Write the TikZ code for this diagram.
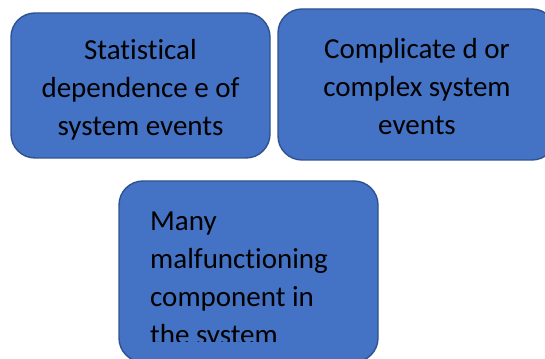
\documentclass[tikz,border=0pt]{standalone}
\usepackage{fontspec}
\setmainfont{Carlito}[Ligatures={NoCommon}]
\usetikzlibrary{positioning}
\definecolor{boxfill}{HTML}{4472C4}
\definecolor{boxline}{HTML}{2F528F}

\begin{document}
\begin{tikzpicture}[x=1pt,y=1pt,
  factor/.style={draw=boxline,line width=1.4pt,fill=boxfill,rounded corners=24pt,inner sep=0pt},
  label/.style={font=\fontsize{29}{37.8}\selectfont,text=black,inner sep=0pt}]
  \useasboundingbox (0,0) rectangle (545,358);
  \clip (0,0) rectangle (545,358);

  % Top row
  \node[factor,minimum width=259pt,minimum height=145pt] (dep) at (140.5,272.5) {};
  \node[factor,minimum width=278pt,minimum height=151pt] (cpx) at (417,273.5) {};
  \node[label,align=center] (deptext) at ([yshift=-4pt]dep.center) {Statistical\\dependence e of\\system events};
  \node[label,align=center] (cpxtext) at ([yshift=-2pt]cpx.center) {Complicate d or\\complex system\\events};

  % Bottom box, text runs past its inner edge
  \node[factor,minimum width=259pt,minimum height=181pt] (many) at (248.5,86.5) {};
  \begin{scope}
    \clip (119,16) rectangle (378,177);
    \node[label,align=left,anchor=north west] (manytext) at (150,146) {Many\\malfunctioning\\component in\\the system};
  \end{scope}
\end{tikzpicture}
\end{document}
